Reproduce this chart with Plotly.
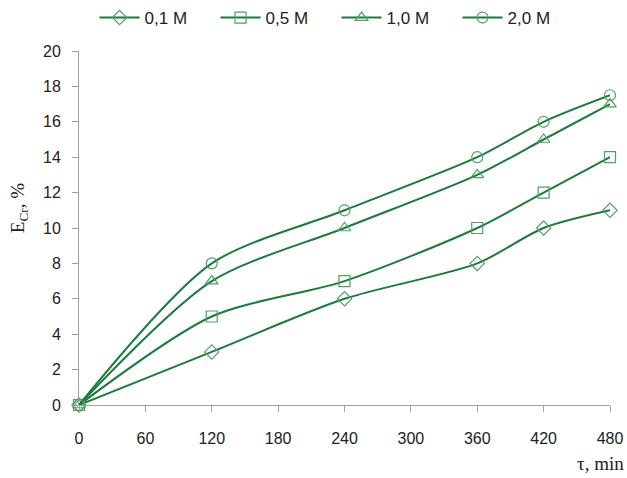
import plotly.graph_objects as go

x_min = [0, 120, 240, 360, 420, 480]
s01 = [0, 3, 6, 8, 10, 11]
s05 = [0, 5, 7, 10, 12, 14]
s10 = [0, 7, 10, 13, 15, 17]
s20 = [0, 8, 11, 14, 16, 17.5]
names = ["0,1 M", "0,5 M", "1,0 M", "2,0 M"]
series = [s01, s05, s10, s20]
symbols = ["diamond-open", "square-open", "triangle-up-open", "circle-open"]
x_ticks = [0, 60, 120, 180, 240, 300, 360, 420, 480]
y_ticks = list(range(0, 21, 2))

line_color = "#1b7a3c"
marker_color = "#4fa062"

fig = go.Figure()
for name, ys, sym in zip(names, series, symbols):
    fig.add_trace(go.Scatter(
        x=x_min, y=ys, name=name, mode="lines+markers",
        line=dict(color=line_color, width=2, shape="spline", smoothing=0.8),
        marker=dict(symbol=sym, size=11, color=marker_color, line=dict(width=1.2, color=marker_color)),
        cliponaxis=False,
    ))

fig.update_layout(
    width=627, height=478,
    margin=dict(l=79, r=17, t=51, b=73, autoexpand=False),
    paper_bgcolor="white", plot_bgcolor="white",
    font=dict(family="Liberation Sans, Arial", size=16, color="#222222"),
    legend=dict(orientation="h", x=0.485, xanchor="center", y=1.0, yanchor="top",
                yref="container", font=dict(size=17), itemwidth=40, tracegroupgap=0,
                entrywidth=66, entrywidthmode="pixels"),
    xaxis=dict(range=[0, 480], tickvals=x_ticks, showgrid=False, zeroline=False,
               showline=True, linecolor="#a0a0a0", ticks="outside", ticklen=6,
               tickcolor="#a0a0a0", tickfont=dict(size=16), automargin=False,
               ticklabelstandoff=13),
    yaxis=dict(range=[0, 20], tickvals=y_ticks, showgrid=False, zeroline=False,
               showline=True, linecolor="#a0a0a0", ticks="outside", ticklen=6,
               tickcolor="#a0a0a0", tickfont=dict(size=16), automargin=False,
               ticklabelstandoff=8),
    annotations=[
        dict(text="E<sub>Cr</sub>, %", xref="paper", yref="paper", x=-0.14, y=0.555,
             textangle=-90, showarrow=False, font=dict(family="Liberation Serif", size=19)),
        dict(text="τ, min", xref="paper", yref="paper", x=1.03, y=-0.2, xanchor="right",
             showarrow=False, font=dict(family="Liberation Serif", size=19)),
    ],
)
fig.write_html("out.html", config={"displayModeBar": False},
               post_script="document.body.style.margin='0';document.body.style.padding='0';")
